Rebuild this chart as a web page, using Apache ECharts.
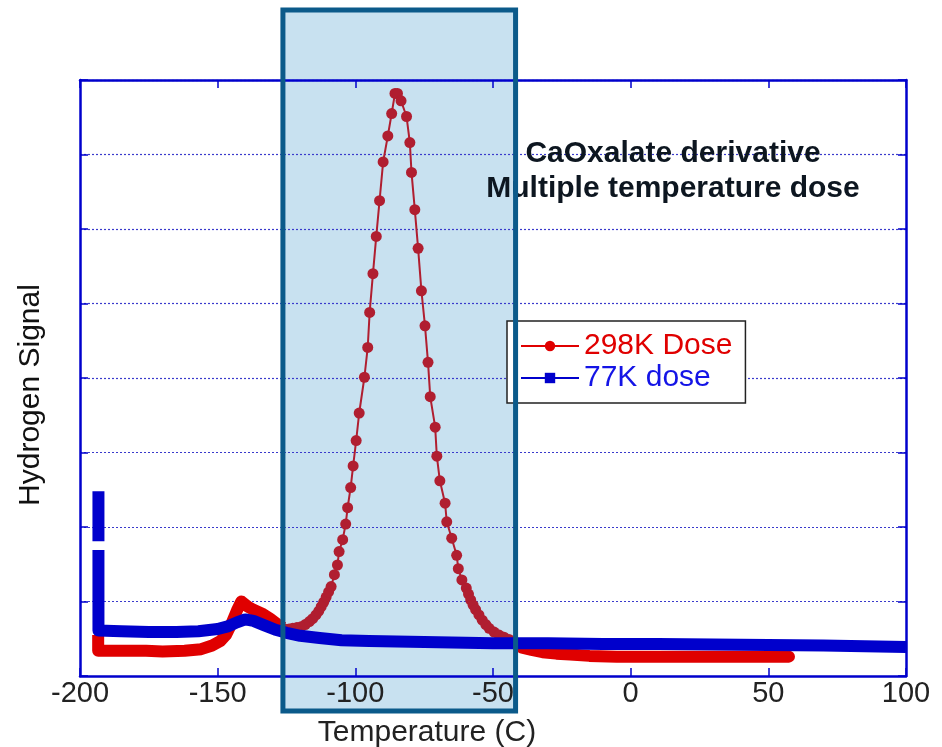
<!DOCTYPE html>
<html><head><meta charset="utf-8">
<script src="https://cdn.jsdelivr.net/npm/echarts@6/dist/echarts.min.js"></script>
<style>html,body{margin:0;padding:0;background:#fff}#c{width:942px;height:747px}</style>
</head><body><div id="c"></div>
<script>
// ---- data ----
const xMin = -200, xMax = 100, xStep = 50;
const yMin = 0, yMax = 8, yStep = 1;
const seriesNames = ['298K Dose', '77K dose'];
const titleLines = ['CaOxalate derivative', 'Multiple temperature dose'];
const xAxisName = 'Temperature (C)';
const yAxisName = 'Hydrogen Signal';
const highlightRange = [-126.3, -41.8];

// 298K dose: flat part before the highlighted band
const red298Left = [
  [-193.4, 0.55], [-193.4, 0.34], [-185, 0.34], [-176, 0.34], [-170, 0.33],
  [-162, 0.34], [-156, 0.36], [-152, 0.41], [-149, 0.47], [-147, 0.55],
  [-145, 0.70], [-143, 0.88], [-141.4, 1.00], [-139, 0.93], [-137, 0.89],
  [-134, 0.84], [-131, 0.77], [-128.5, 0.70], [-126.3, 0.65]
];
// 298K dose: individually visible points inside the highlighted band
const red298Peak = [
  [-125.7, 0.63], [-124, 0.63], [-122.7, 0.64], [-121.2, 0.65], [-119.7, 0.66],
  [-118.2, 0.69], [-116.7, 0.73], [-115.5, 0.77], [-114.3, 0.82], [-113.3, 0.87],
  [-112.4, 0.93], [-111.5, 0.99], [-110.6, 1.06], [-109.7, 1.13], [-108.8, 1.20],
  [-107.6, 1.36], [-106.5, 1.49], [-105.9, 1.67], [-104.6, 1.83], [-103.5, 2.04],
  [-102.8, 2.26], [-101.7, 2.53], [-100.8, 2.82], [-99.7, 3.16], [-98.6, 3.53],
  [-96.7, 4.01], [-95.5, 4.41], [-94.8, 4.88], [-93.6, 5.40], [-92.4, 5.90],
  [-91.2, 6.38], [-89.9, 6.90], [-88.2, 7.25], [-86.8, 7.55], [-85.6, 7.82],
  [-84.7, 7.82], [-83.4, 7.72], [-81.4, 7.51], [-80.2, 7.16], [-79.6, 6.76],
  [-78.4, 6.26], [-77.2, 5.74], [-76.0, 5.17], [-74.7, 4.70], [-73.6, 4.21],
  [-72.8, 3.75], [-71.0, 3.34], [-70.4, 2.95], [-69.3, 2.62], [-67.4, 2.32],
  [-66.8, 2.07], [-65.0, 1.85], [-63.2, 1.62], [-62.6, 1.44], [-61.3, 1.29],
  [-59.7, 1.18], [-58.9, 1.10], [-58.1, 1.02], [-57.2, 0.95], [-56.3, 0.89],
  [-55.1, 0.82], [-53.9, 0.75], [-52.6, 0.69], [-51.4, 0.64], [-49.6, 0.59],
  [-47.8, 0.55], [-46.0, 0.52], [-44.2, 0.49], [-42.8, 0.46], [-41.8, 0.44]
];
// 298K dose: flat part after the highlighted band
const red298Right = [
  [-41.8, 0.44], [-39.4, 0.38], [-36, 0.35], [-32, 0.32], [-27, 0.30],
  [-22, 0.29], [-15, 0.27], [-5, 0.26], [10, 0.26], [30, 0.26], [45, 0.26], [57.5, 0.26]
];
// 77K dose
const blue77 = [
  [-193.3, 2.48], [-193.3, 1.81], [-193.3, '-'], [-193.3, 1.69], [-193.3, 0.61],
  [-185, 0.60], [-175, 0.59], [-165, 0.59], [-157, 0.60], [-150, 0.63],
  [-146, 0.67], [-143, 0.72], [-140, 0.76], [-137, 0.74], [-133, 0.68],
  [-129, 0.62], [-125, 0.58], [-120, 0.54], [-113, 0.51], [-105, 0.48],
  [-95, 0.47], [-80, 0.46], [-65, 0.45], [-50, 0.44], [-30, 0.44],
  [-10, 0.43], [10, 0.43], [40, 0.42], [70, 0.41], [85, 0.40], [100, 0.39]
];

// ---- styles ----
const FONT = '"Liberation Sans", Arial, sans-serif';
const AXIS_BLUE = '#0000CC';
const RED = '#E00000';
const DARK_RED = '#B01E30';

const chart = echarts.init(document.getElementById('c'), null, {renderer: 'canvas'});

const frameAxis = (extra) => Object.assign({
  type: 'value',
  axisLine: {show: true, onZero: false, lineStyle: {color: AXIS_BLUE, width: 2.5}},
  axisTick: {show: true, inside: true, length: 8, lineStyle: {color: AXIS_BLUE, width: 1.5}},
  axisLabel: {show: false},
  splitLine: {show: false}
}, extra);

const option = {
  animation: false,
  backgroundColor: '#fff',
  grid: {left: 80, right: 36, top: 80, bottom: 71},
  title: {
    text: titleLines.join('\n'),
    left: 668, top: 131, textAlign: 'center',
    textStyle: {fontFamily: FONT, fontSize: 30, fontWeight: 'bold', color: '#0D1620', lineHeight: 35}
  },
  legend: {
    orient: 'vertical', left: 507, top: 321,
    padding: [10, 13, 10, 13],
    itemWidth: 58, itemHeight: 13, itemGap: 2,
    backgroundColor: '#fff', borderColor: '#222', borderWidth: 1.5, borderRadius: 0,
    textStyle: {fontFamily: FONT, fontSize: 30},
    data: [
      {name: seriesNames[0], textStyle: {color: RED}, itemStyle: {color: RED}, lineStyle: {color: RED, width: 2}},
      {name: seriesNames[1], textStyle: {color: '#1414E6'}, itemStyle: {color: AXIS_BLUE}, lineStyle: {color: AXIS_BLUE, width: 2}}
    ]
  },
  xAxis: [
    frameAxis({
      position: 'bottom', min: xMin, max: xMax, interval: xStep,
      axisLabel: {show: true, fontFamily: FONT, fontSize: 29, color: '#222', margin: 3}
    }),
    frameAxis({position: 'top', min: xMin, max: xMax, interval: xStep})
  ],
  yAxis: [
    frameAxis({
      position: 'left', min: yMin, max: yMax, interval: yStep,
      splitLine: {show: true, lineStyle: {color: '#3A3ACC', width: 1.2, type: [2, 2]}}
    }),
    frameAxis({position: 'right', min: yMin, max: yMax, interval: yStep})
  ],
  series: [
    {
      name: seriesNames[0], type: 'line', data: red298Peak,
      symbol: 'circle', symbolSize: 11, showSymbol: true,
      itemStyle: {color: DARK_RED},
      lineStyle: {color: DARK_RED, width: 2},
      z: 3
    },
    {
      name: seriesNames[0], type: 'line', data: red298Left,
      symbol: 'none', itemStyle: {color: RED},
      lineStyle: {color: RED, width: 12, cap: 'butt', join: 'round'},
      z: 3
    },
    {
      name: seriesNames[0], type: 'line', data: red298Right,
      symbol: 'none', itemStyle: {color: RED},
      lineStyle: {color: RED, width: 12, cap: 'round', join: 'round'},
      z: 3
    },
    {
      name: seriesNames[1], type: 'line', data: blue77,
      symbol: 'rect', symbolSize: 10, showSymbol: false,
      itemStyle: {color: AXIS_BLUE},
      lineStyle: {color: AXIS_BLUE, width: 12, cap: 'butt', join: 'round'},
      z: 4
    }
  ]
};
chart.setOption(option);

// highlight box spanning the chosen temperature range (extends past the plot frame)
const hx0 = chart.convertToPixel({xAxisIndex: 0}, highlightRange[0]);
const hx1 = chart.convertToPixel({xAxisIndex: 0}, highlightRange[1]);
const boxTop = 10, boxBottom = 711;
chart.setOption({
  graphic: [
    {type: 'rect', z: -1, silent: true,
     shape: {x: hx0, y: boxTop, width: hx1 - hx0, height: boxBottom - boxTop},
     style: {fill: '#C8E1F0'}},
    {type: 'rect', z: 100, silent: true,
     shape: {x: hx0, y: boxTop, width: hx1 - hx0, height: boxBottom - boxTop},
     style: {fill: 'none', stroke: '#0B5A8A', lineWidth: 5}},
    {type: 'text', z: 5, x: 31, y: 395, rotation: Math.PI / 2,
     style: {text: yAxisName, fontFamily: FONT, fontSize: 30, fill: '#111',
             textAlign: 'center', textVerticalAlign: 'middle'}},
    {type: 'text', z: 5, x: 427, y: 733,
     style: {text: xAxisName, fontFamily: FONT, fontSize: 30, fill: '#222',
             textAlign: 'center', textVerticalAlign: 'middle'}}
  ]
});
</script></body></html>
